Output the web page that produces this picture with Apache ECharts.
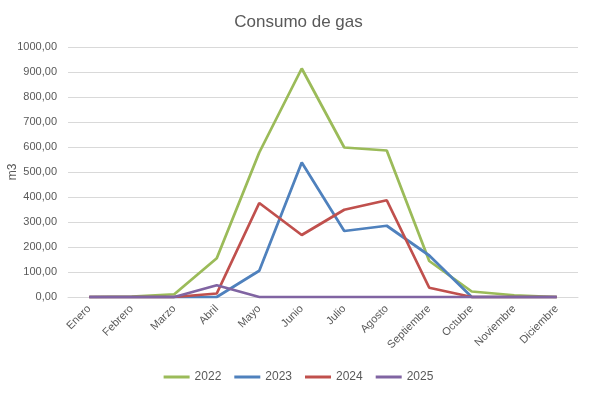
<!DOCTYPE html>
<html><head><meta charset="utf-8">
<script src="https://cdn.jsdelivr.net/npm/echarts@6/dist/echarts.min.js"></script>
<style>html,body{margin:0;padding:0;background:#fff}#c{width:597px;height:396px}</style>
</head><body><div id="c"></div>
<script>
const categories = ['Enero','Febrero','Marzo','Abril','Mayo','Junio','Julio','Agosto','Septiembre','Octubre','Noviembre','Diciembre'];
const s2022 = [0, 2, 11, 155, 578, 914, 598, 586, 144, 22, 7, 0];
const s2023 = [0, 0, 0, 0, 105, 538, 264, 285, 166, 0, 0, 0];
const s2024 = [0, 0, 0, 14, 376, 248, 349, 387, 37, 0, 0, 0];
const s2025 = [0, 0, 0, 47, 0, 0, 0, 0, 0, 0, 0, 0];
const seriesNames = ['2022','2023','2024','2025'];
const colors = ['#9BBB59','#4F81BD','#C0504D','#8064A2'];
const font = 'Liberation Sans, Arial, sans-serif';
const data = [s2022, s2023, s2024, s2025];
const chart = echarts.init(document.getElementById('c'));
chart.setOption({
  animation: false,
  title: {text: 'Consumo de gas', left: 'center', top: 9, textStyle: {fontFamily: font, fontSize: 17, fontWeight: 'normal', color: '#595959'}},
  legend: {bottom: 8, left: 'center', itemWidth: 26, itemHeight: 3, itemGap: 13, icon: 'rect',
    textStyle: {fontFamily: font, fontSize: 12, color: '#595959'}, data: seriesNames},
  grid: {left: 68, right: 19, top: 47, bottom: 99, containLabel: false, outerBoundsMode: 'none'},
  xAxis: {type: 'category', data: categories, boundaryGap: true,
    axisLine: {show: true, lineStyle: {color: '#d9d9d9'}}, axisTick: {show: false},
    axisLabel: {rotate: 45, fontFamily: font, fontSize: 11, color: '#595959', margin: 10, interval: 0}},
  yAxis: {type: 'value', min: 0, max: 1000, interval: 100, name: 'm3', nameLocation: 'middle', nameGap: 49, nameMoveOverlap: false,
    nameTextStyle: {fontFamily: font, fontSize: 12, color: '#595959'},
    axisLine: {show: false}, axisTick: {show: false},
    axisLabel: {fontFamily: font, fontSize: 11, color: '#595959', margin: 11, formatter: v => v.toFixed(2).replace('.', ',')},
    splitLine: {lineStyle: {color: '#d9d9d9'}}},
  series: seriesNames.map((n, i) => ({name: n, type: 'line', data: data[i], symbol: 'none', color: colors[i],
    lineStyle: {width: 2.75, color: colors[i]}}))
});
</script></body></html>
